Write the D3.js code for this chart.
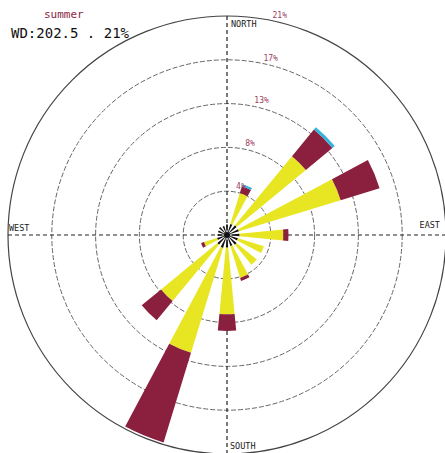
<!DOCTYPE html>
<html>
<head>
<meta charset="utf-8">
<script src="https://cdn.jsdelivr.net/npm/d3@7"></script>
<style>
  body { margin: 0; background: #fff; }
  svg { display: block; }
</style>
</head>
<body>
<script>
// wind rose, summer - values in % per direction and speed class
const directions = [0, 22.5, 45, 67.5, 90, 112.5, 135, 157.5, 180, 202.5, 225, 247.5, 270, 292.5, 315, 337.5];
const class1 = [1.0, 1.1, 1.2, 1.2, 1.2, 1.1, 1.2, 1.1, 1.2, 1.3, 1.2, 1.0, 0.9, 0.9, 1.0, 0.9];
const class2 = [0, 3.1, 8.6, 10.2, 4.2, 2.6, 2.5, 3.2, 6.4, 10.5, 7.0, 1.3, 0, 0, 0, 0];
const class3 = [0, 0.7, 3.3, 3.9, 0.5, 0, 0, 0.3, 1.6, 9.0, 2.4, 0.3, 0, 0, 0, 0];
const class4 = [0, 0.2, 0.3, 0, 0, 0, 0, 0, 0, 0, 0, 0, 0, 0, 0, 0];
const classColors = ['#111111', '#e8e622', '#8b1f3e', '#36b2da'];

const ringValues = [4.2, 8.4, 12.6, 16.8, 21];
const ringLabels = ['4%', '8%', '13%', '17%', '21%'];
const compass = ['NORTH', 'EAST', 'SOUTH', 'WEST'];

const W = 445, H = 453;
const CX = 227, CY = 235, R = 219;

const svg = d3.select('body').append('svg')
  .attr('width', W)
  .attr('height', H);

const r = d3.scaleLinear().domain([0, 21]).range([0, R]);
const ang = d3.scaleLinear().domain([0, 360]).range([0, 2 * Math.PI]);
const HALF = 5.5; // half width of a petal in degrees

const g = svg.append('g').attr('transform', `translate(${CX},${CY})`);

// rings
g.selectAll('circle.ring')
  .data(ringValues.slice(0, -1))
  .join('circle')
    .attr('class', 'ring')
    .attr('r', d => r(d))
    .attr('fill', 'none')
    .attr('stroke', '#666')
    .attr('stroke-width', 1)
    .attr('stroke-dasharray', '5,2');

g.append('circle')
  .attr('r', r(21))
  .attr('fill', 'none')
  .attr('stroke', '#444')
  .attr('stroke-width', 1.2);

// axis cross
g.append('line')
  .attr('x1', -R).attr('x2', R).attr('y1', 0).attr('y2', 0)
  .attr('stroke', '#222').attr('stroke-width', 1.2).attr('stroke-dasharray', '4,3');
g.append('line')
  .attr('y1', -R).attr('y2', R).attr('x1', 0).attr('x2', 0)
  .attr('stroke', '#222').attr('stroke-width', 1.2).attr('stroke-dasharray', '4,3');

// stacked petals
const classes = [class1, class2, class3, class4];
const petals = [];
directions.forEach((dir, i) => {
  let start = 0;
  classes.forEach((c, k) => {
    const v = c[i];
    if (v > 0) {
      petals.push({dir: dir, inner: start, outer: start + v, color: classColors[k]});
    }
    start += v;
  });
});

const arc = d3.arc()
  .innerRadius(d => r(d.inner))
  .outerRadius(d => r(d.outer))
  .startAngle(d => ang(d.dir - HALF))
  .endAngle(d => ang(d.dir + HALF));

g.selectAll('path.petal')
  .data(petals)
  .join('path')
    .attr('class', 'petal')
    .attr('d', arc)
    .attr('fill', d => d.color);

g.append('circle').attr('r', 3).attr('fill', '#111');

// ring labels along 12 degrees
const la = ang(12);
g.selectAll('text.rl')
  .data(ringValues)
  .join('text')
    .attr('class', 'rl')
    .attr('x', d => r(d) * Math.sin(la))
    .attr('y', d => -r(d) * Math.cos(la) - 3)
    .attr('font-family', 'DejaVu Sans Mono, monospace')
    .attr('font-size', 8)
    .attr('fill', '#a0405e')
    .text((d, i) => ringLabels[i]);

// compass labels
const lblStyle = s => s.attr('font-family', 'DejaVu Sans Mono, monospace')
  .attr('font-size', 8.5).attr('fill', '#222');
g.append('text').attr('x', 4).attr('y', -R + 11).text(compass[0]).call(lblStyle);
g.append('text').attr('x', R - 6).attr('y', -7).attr('text-anchor', 'end').text(compass[1]).call(lblStyle);
g.append('text').attr('x', 3).attr('y', R - 5).text(compass[2]).call(lblStyle);
g.append('text').attr('x', -R + 1).attr('y', -4).text(compass[3]).call(lblStyle);

// titles
svg.append('text')
  .attr('x', 44).attr('y', 18)
  .attr('font-family', 'DejaVu Sans Mono, monospace')
  .attr('font-size', 11)
  .attr('fill', '#8b1f3e')
  .text('summer');
svg.append('text')
  .attr('x', 11).attr('y', 38)
  .attr('font-family', 'DejaVu Sans Mono, monospace')
  .attr('font-size', 14)
  .attr('fill', '#111')
  .text('WD:202.5 . 21%');
</script>
</body>
</html>
